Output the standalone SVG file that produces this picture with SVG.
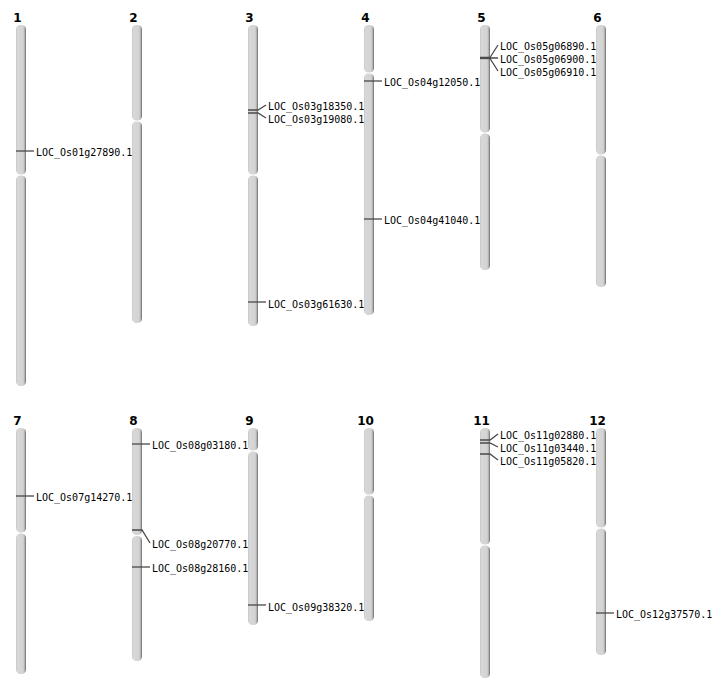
<svg xmlns="http://www.w3.org/2000/svg" width="712" height="700" viewBox="0 0 712 700">
<defs>
<linearGradient id="chg" x1="0" y1="0" x2="1" y2="0">
<stop offset="0" stop-color="#c4c4c4"/>
<stop offset="0.12" stop-color="#d8d8d8"/>
<stop offset="0.72" stop-color="#d3d3d3"/>
<stop offset="0.86" stop-color="#b0b0b0"/>
<stop offset="1" stop-color="#6a6a6a"/>
</linearGradient>
</defs>
<style>
.arm{fill:url(#chg);}
.num{font-family:"DejaVu Sans",sans-serif;font-weight:bold;font-size:12px;fill:#000;text-anchor:middle;}
.lab{font-family:"DejaVu Sans Mono",monospace;font-size:10px;fill:#000;dominant-baseline:central;}
.mk{stroke:#4a4a4a;stroke-width:1.3;fill:none;}
</style>
<rect width="712" height="700" fill="#fff"/>
<g id="chr1"><text class="num" x="17.5" y="22">1</text><rect class="arm" x="16" y="25" width="10" height="149.5" rx="4.5"/><rect class="arm" x="16" y="175.5" width="10" height="210.5" rx="4.5"/></g>
<g id="chr2"><text class="num" x="133.5" y="22">2</text><rect class="arm" x="132" y="25" width="10" height="95.5" rx="4.5"/><rect class="arm" x="132" y="121.5" width="10" height="201.5" rx="4.5"/></g>
<g id="chr3"><text class="num" x="249.5" y="22">3</text><rect class="arm" x="248" y="25" width="10" height="149.5" rx="4.5"/><rect class="arm" x="248" y="175.5" width="10" height="150.5" rx="4.5"/></g>
<g id="chr4"><text class="num" x="365.5" y="22">4</text><rect class="arm" x="364" y="25" width="10" height="47.5" rx="4.5"/><rect class="arm" x="364" y="73.5" width="10" height="241.5" rx="4.5"/></g>
<g id="chr5"><text class="num" x="481.5" y="22">5</text><rect class="arm" x="480" y="25" width="10" height="107.5" rx="4.5"/><rect class="arm" x="480" y="133.5" width="10" height="136.5" rx="4.5"/></g>
<g id="chr6"><text class="num" x="597.5" y="22">6</text><rect class="arm" x="596" y="25" width="10" height="129.5" rx="4.5"/><rect class="arm" x="596" y="155.5" width="10" height="131.5" rx="4.5"/></g>
<g id="chr7"><text class="num" x="17.5" y="425">7</text><rect class="arm" x="16" y="428" width="10" height="104.5" rx="4.5"/><rect class="arm" x="16" y="533.5" width="10" height="140.5" rx="4.5"/></g>
<g id="chr8"><text class="num" x="133.5" y="425">8</text><rect class="arm" x="132" y="428" width="10" height="107" rx="4.5"/><rect class="arm" x="132" y="536" width="10" height="125" rx="4.5"/></g>
<g id="chr9"><text class="num" x="249.5" y="425">9</text><rect class="arm" x="248" y="428" width="10" height="22.5" rx="4.5"/><rect class="arm" x="248" y="451.5" width="10" height="173.5" rx="4.5"/></g>
<g id="chr10"><text class="num" x="365.5" y="425">10</text><rect class="arm" x="364" y="428" width="10" height="66.5" rx="4.5"/><rect class="arm" x="364" y="495.5" width="10" height="125.5" rx="4.5"/></g>
<g id="chr11"><text class="num" x="481.5" y="425">11</text><rect class="arm" x="480" y="428" width="10" height="116.5" rx="4.5"/><rect class="arm" x="480" y="545.5" width="10" height="132.5" rx="4.5"/></g>
<g id="chr12"><text class="num" x="597.5" y="425">12</text><rect class="arm" x="596" y="428" width="10" height="99.5" rx="4.5"/><rect class="arm" x="596" y="528.5" width="10" height="126.5" rx="4.5"/></g>
<g id="connectors">
<path class="mk" d="M16 151H34"/>
<path class="mk" d="M248 110H258L266 105M248 113H258L266 118"/>
<path class="mk" d="M248 302H266"/>
<path class="mk" d="M364 81H382"/>
<path class="mk" d="M364 219H382"/>
<path class="mk" d="M480 57.5H490M490 57.5L498 45M490 58H498M490 58.5L498 71"/>
<path class="mk" d="M480 58.5H490"/>
<path class="mk" d="M16 496H34"/>
<path class="mk" d="M132 444H150"/>
<path class="mk" d="M132 530H142L150 543"/>
<path class="mk" d="M132 567H150"/>
<path class="mk" d="M248 605H266"/>
<path class="mk" d="M480 440H490L498 434M480 443H490L498 447M480 454H490L498 460"/>
<path class="mk" d="M596 613H614"/>
</g>
<g id="labels">
<text class="lab" x="36" y="152">LOC_Os01g27890.1</text>
<text class="lab" x="268" y="106">LOC_Os03g18350.1</text>
<text class="lab" x="268" y="119">LOC_Os03g19080.1</text>
<text class="lab" x="268" y="304">LOC_Os03g61630.1</text>
<text class="lab" x="384" y="82">LOC_Os04g12050.1</text>
<text class="lab" x="384" y="220">LOC_Os04g41040.1</text>
<text class="lab" x="500" y="46">LOC_Os05g06890.1</text>
<text class="lab" x="500" y="59">LOC_Os05g06900.1</text>
<text class="lab" x="500" y="72">LOC_Os05g06910.1</text>
<text class="lab" x="36" y="497">LOC_Os07g14270.1</text>
<text class="lab" x="152" y="445">LOC_Os08g03180.1</text>
<text class="lab" x="152" y="544">LOC_Os08g20770.1</text>
<text class="lab" x="152" y="568">LOC_Os08g28160.1</text>
<text class="lab" x="268" y="607">LOC_Os09g38320.1</text>
<text class="lab" x="500" y="435">LOC_Os11g02880.1</text>
<text class="lab" x="500" y="448">LOC_Os11g03440.1</text>
<text class="lab" x="500" y="461">LOC_Os11g05820.1</text>
<text class="lab" x="616" y="614">LOC_Os12g37570.1</text>
</g>
</svg>
